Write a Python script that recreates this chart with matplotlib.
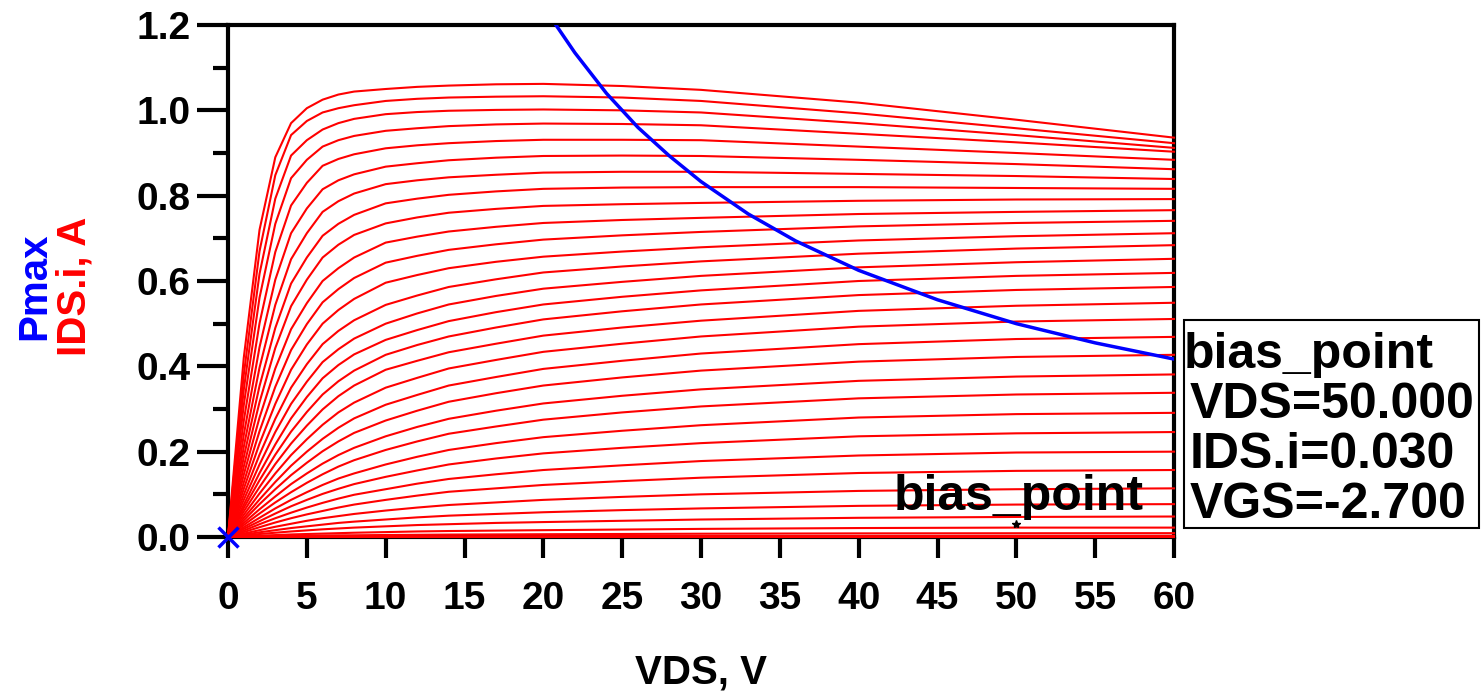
import matplotlib
matplotlib.use('Agg')
import matplotlib.pyplot as plt
from matplotlib.patches import Rectangle

plt.rcParams['font.family'] = ['Liberation Sans', 'DejaVu Sans']

# VDS sweep points (V) shared by every IDS curve
vds = [0, 1, 2, 3, 4, 5, 6, 7, 8, 10, 12, 14, 17, 20, 25, 30, 40, 50, 60]

# IDS.i (A) for each VGS step, top curve first
ids_curves = [
    [0, 0.42, 0.72, 0.89, 0.97, 1.005, 1.025, 1.037, 1.044, 1.050, 1.055, 1.058, 1.061, 1.062, 1.057, 1.048, 1.018, 0.978, 0.936],
    [0, 0.38, 0.67, 0.848, 0.942, 0.975, 0.995, 1.005, 1.012, 1.022, 1.027, 1.030, 1.032, 1.033, 1.030, 1.022, 0.993, 0.958, 0.923],
    [0, 0.345, 0.617, 0.793, 0.894, 0.930, 0.955, 0.970, 0.980, 0.991, 0.996, 0.999, 1.001, 1.002, 1.000, 0.995, 0.970, 0.942, 0.912],
    [0, 0.309, 0.561, 0.734, 0.841, 0.884, 0.915, 0.930, 0.940, 0.952, 0.958, 0.963, 0.967, 0.969, 0.968, 0.965, 0.945, 0.925, 0.903],
    [0, 0.272, 0.501, 0.668, 0.777, 0.830, 0.870, 0.886, 0.897, 0.911, 0.918, 0.923, 0.928, 0.931, 0.931, 0.930, 0.915, 0.900, 0.884],
    [0, 0.239, 0.445, 0.603, 0.712, 0.770, 0.815, 0.836, 0.850, 0.868, 0.876, 0.883, 0.889, 0.893, 0.894, 0.893, 0.884, 0.874, 0.862],
    [0, 0.211, 0.397, 0.544, 0.651, 0.712, 0.762, 0.787, 0.805, 0.827, 0.836, 0.843, 0.849, 0.854, 0.856, 0.856, 0.851, 0.846, 0.839],
    [0, 0.187, 0.354, 0.490, 0.594, 0.655, 0.706, 0.734, 0.755, 0.782, 0.793, 0.802, 0.810, 0.816, 0.819, 0.820, 0.820, 0.818, 0.816],
    [0, 0.165, 0.316, 0.443, 0.541, 0.603, 0.655, 0.685, 0.708, 0.735, 0.749, 0.760, 0.769, 0.776, 0.780, 0.783, 0.788, 0.791, 0.792],
    [0, 0.146, 0.280, 0.395, 0.487, 0.548, 0.600, 0.630, 0.655, 0.690, 0.704, 0.716, 0.727, 0.736, 0.743, 0.748, 0.757, 0.762, 0.766],
    [0, 0.128, 0.248, 0.352, 0.438, 0.499, 0.550, 0.581, 0.607, 0.643, 0.659, 0.673, 0.686, 0.697, 0.707, 0.715, 0.728, 0.736, 0.741],
    [0, 0.113, 0.219, 0.312, 0.392, 0.451, 0.500, 0.532, 0.558, 0.596, 0.614, 0.630, 0.645, 0.657, 0.669, 0.679, 0.695, 0.705, 0.712],
    [0, 0.099, 0.193, 0.277, 0.350, 0.405, 0.452, 0.483, 0.508, 0.544, 0.566, 0.586, 0.604, 0.620, 0.634, 0.646, 0.664, 0.676, 0.684],
    [0, 0.087, 0.170, 0.246, 0.312, 0.364, 0.410, 0.440, 0.465, 0.500, 0.524, 0.545, 0.565, 0.582, 0.598, 0.612, 0.632, 0.644, 0.652],
    [0, 0.076, 0.150, 0.217, 0.278, 0.328, 0.372, 0.403, 0.428, 0.462, 0.485, 0.506, 0.527, 0.545, 0.563, 0.578, 0.600, 0.612, 0.619],
    [0, 0.068, 0.133, 0.193, 0.247, 0.293, 0.334, 0.365, 0.390, 0.427, 0.450, 0.470, 0.491, 0.510, 0.529, 0.545, 0.567, 0.579, 0.586],
    [0, 0.060, 0.117, 0.171, 0.219, 0.261, 0.299, 0.330, 0.355, 0.392, 0.413, 0.433, 0.453, 0.472, 0.491, 0.507, 0.530, 0.542, 0.549],
    [0, 0.052, 0.102, 0.149, 0.192, 0.229, 0.263, 0.292, 0.315, 0.350, 0.373, 0.395, 0.415, 0.434, 0.453, 0.470, 0.493, 0.505, 0.511],
    [0, 0.045, 0.088, 0.129, 0.167, 0.200, 0.230, 0.256, 0.278, 0.310, 0.333, 0.355, 0.375, 0.394, 0.413, 0.430, 0.452, 0.464, 0.469],
    [0, 0.039, 0.077, 0.112, 0.145, 0.174, 0.201, 0.224, 0.244, 0.273, 0.296, 0.317, 0.337, 0.355, 0.374, 0.390, 0.411, 0.422, 0.427],
    [0, 0.033, 0.065, 0.095, 0.124, 0.149, 0.172, 0.192, 0.209, 0.236, 0.258, 0.277, 0.296, 0.313, 0.331, 0.346, 0.366, 0.376, 0.381],
    [0, 0.028, 0.055, 0.081, 0.105, 0.127, 0.147, 0.165, 0.180, 0.204, 0.224, 0.242, 0.259, 0.275, 0.292, 0.306, 0.325, 0.334, 0.338],
    [0, 0.023, 0.045, 0.067, 0.087, 0.105, 0.122, 0.137, 0.149, 0.170, 0.188, 0.204, 0.220, 0.234, 0.249, 0.262, 0.280, 0.288, 0.291],
    [0, 0.019, 0.037, 0.055, 0.072, 0.087, 0.101, 0.113, 0.124, 0.141, 0.156, 0.170, 0.184, 0.196, 0.209, 0.220, 0.236, 0.243, 0.246],
    [0, 0.015, 0.030, 0.044, 0.057, 0.069, 0.080, 0.090, 0.099, 0.112, 0.125, 0.136, 0.147, 0.157, 0.168, 0.178, 0.191, 0.198, 0.200],
    [0, 0.0115, 0.023, 0.034, 0.044, 0.053, 0.061, 0.069, 0.076, 0.087, 0.097, 0.106, 0.114, 0.122, 0.131, 0.139, 0.150, 0.155, 0.157],
    [0, 0.008, 0.016, 0.024, 0.031, 0.038, 0.044, 0.049, 0.054, 0.062, 0.069, 0.075, 0.081, 0.087, 0.094, 0.100, 0.108, 0.112, 0.114],
    [0, 0.0055, 0.011, 0.016, 0.021, 0.025, 0.029, 0.033, 0.036, 0.041, 0.046, 0.050, 0.054, 0.058, 0.063, 0.067, 0.073, 0.076, 0.077],
    [0, 0.0035, 0.007, 0.010, 0.013, 0.0155, 0.018, 0.020, 0.022, 0.025, 0.028, 0.030, 0.033, 0.035, 0.038, 0.041, 0.045, 0.047, 0.048],
    [0, 0.0016, 0.003, 0.0045, 0.006, 0.007, 0.008, 0.009, 0.010, 0.0115, 0.013, 0.014, 0.015, 0.016, 0.0175, 0.019, 0.021, 0.022, 0.022],
    [0, 0.0007, 0.0013, 0.002, 0.0025, 0.003, 0.0035, 0.0038, 0.004, 0.0047, 0.0052, 0.0057, 0.0061, 0.0065, 0.0071, 0.0077, 0.0085, 0.0088, 0.009],
    [0, 0.0002, 0.0004, 0.0006, 0.0008, 0.0009, 0.001, 0.0011, 0.0012, 0.0014, 0.0016, 0.0017, 0.0019, 0.002, 0.0022, 0.0023, 0.0025, 0.0027, 0.0028],
    [0, 0, 0, 0, 0, 0, 0, 0, 0, 0, 0, 0, 0, 0, 0, 0, 0, 0, 0],
]

# Pmax contour
pmax_vds = [20.8, 22, 24, 26, 28, 30, 33, 36, 40, 45, 50, 55, 60]
pmax_ids = [1.20, 1.135, 1.04, 0.96, 0.893, 0.833, 0.757, 0.694, 0.625, 0.556, 0.500, 0.455, 0.417]

bias_vds = 50.0
bias_ids = 0.030
bias_vgs = -2.7

x_ticks = list(range(0, 61, 5))
y_ticks = [0.0, 0.2, 0.4, 0.6, 0.8, 1.0, 1.2]

W, H = 1481, 696
fig = plt.figure(figsize=(W / 100, H / 100), dpi=100)
ax = fig.add_axes([228 / W, 1 - 537 / H, (1174 - 228) / W, (537 - 25) / H])

for curve in ids_curves:
    ax.plot(vds, curve, color='#ff0000', lw=1.5, zorder=3, clip_on=False)

ax.plot(pmax_vds, pmax_ids, color='#0000ff', lw=2.5, zorder=4)
ax.plot([0], [0], marker='x', color='#0000ff', ms=14, mew=2.5, zorder=5, clip_on=False)
ax.plot([bias_vds], [bias_ids], marker='*', color='black', ms=6, zorder=5)
ax.text(42.2, 0.063, 'bias_point', fontsize=36, fontweight='bold', ha='left', va='baseline')

ax.set_xlim(0, 60)
ax.set_ylim(0, 1.2)
ax.set_xticks(x_ticks)
ax.set_xticklabels([str(t) for t in x_ticks])
ax.set_yticks(y_ticks)
ax.set_yticklabels(['%.1f' % t for t in y_ticks])
ax.set_yticks([0.1, 0.3, 0.5, 0.7, 0.9, 1.1], minor=True)
ax.tick_params(axis='both', which='major', width=3, labelsize=28)
ax.tick_params(axis='x', which='major', length=15, pad=17)
ax.tick_params(axis='y', which='major', length=22, pad=5)
ax.tick_params(axis='y', which='minor', length=11, width=3)
for lbl in ax.get_xticklabels() + ax.get_yticklabels():
    lbl.set_fontweight('bold')
for sp in ax.spines.values():
    sp.set_linewidth(3)

fig.text(701 / W, 1 - 672 / H, 'VDS, V', fontsize=29, fontweight='bold', ha='center', va='center')
fig.text(34 / W, 1 - 286 / H, 'Pmax', fontsize=29, fontweight='bold', color='#0000ff',
         rotation=90, ha='center', va='center')
fig.text(74 / W, 1 - 286 / H, 'IDS.i, A', fontsize=29, fontweight='bold', color='#ff0000',
         rotation=90, ha='center', va='center')

# readout box on the right
fig.patches.append(Rectangle((1184 / W, 1 - 528 / H), (1479 - 1184) / W, (528 - 320) / H,
                             transform=fig.transFigure, fill=False, ec='black', lw=1.5))
box_lines = ['bias_point',
             'VDS=%.3f' % bias_vds,
             'IDS.i=%.3f' % bias_ids,
             'VGS=%.3f' % bias_vgs]
for i, line in enumerate(box_lines):
    x0 = 1184 if i == 0 else 1190
    fig.text(x0 / W, 1 - (368 + 50 * i) / H, line, fontsize=36, fontweight='bold',
             ha='left', va='baseline')

fig.savefig('out.png', dpi=100)
